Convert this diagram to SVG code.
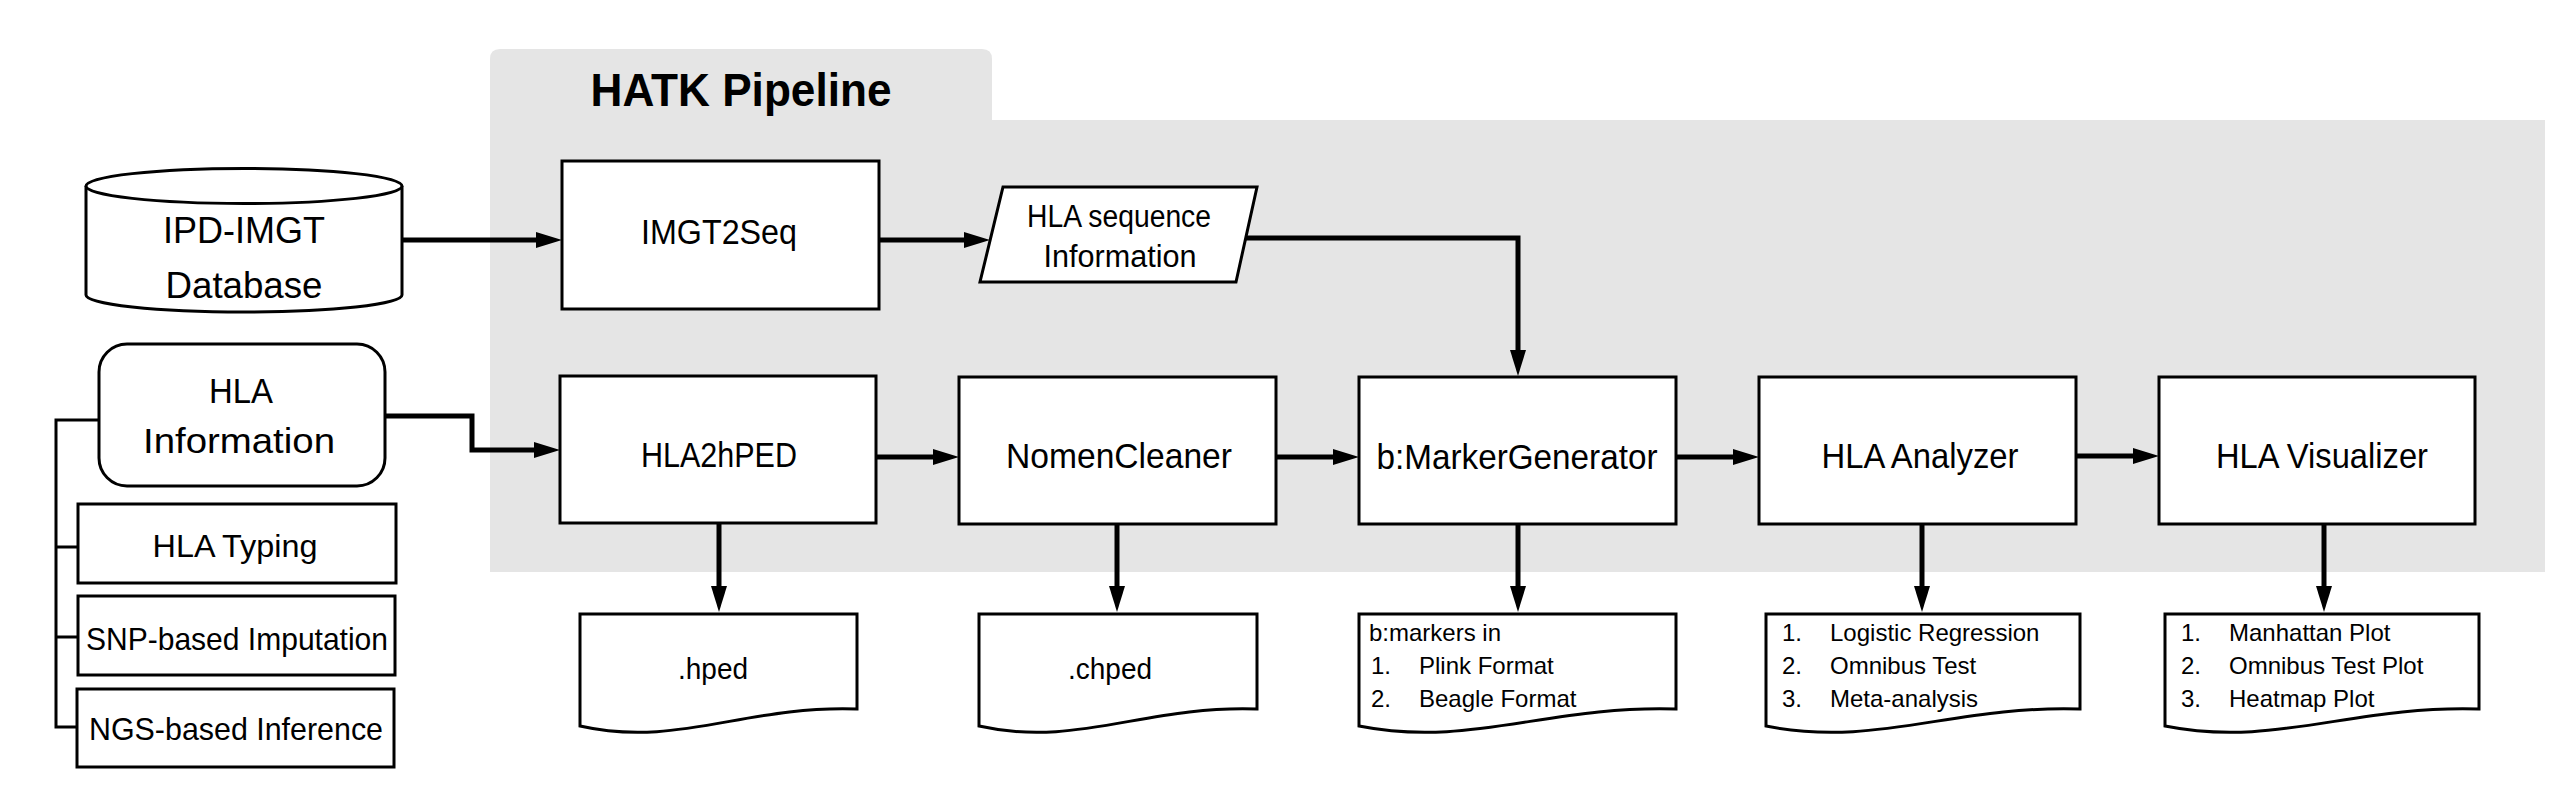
<svg xmlns="http://www.w3.org/2000/svg" width="2559" height="810" viewBox="0 0 2559 810">
<style>
text{font-family:"Liberation Sans",Arial,sans-serif;fill:#000}
.lbl{font-size:35px;text-anchor:middle}
.sub{font-size:32px;text-anchor:middle}
.par{font-size:31px;text-anchor:middle}
.doc{font-size:29px;text-anchor:middle}
.li{font-size:24px}
.box{fill:#fff;stroke:#000;stroke-width:3}
.conn{fill:none;stroke:#000;stroke-width:5}
.tree{fill:none;stroke:#000;stroke-width:3}
</style>
<defs>
<marker id="ah" viewBox="0 0 26 16" refX="0" refY="8" markerWidth="26" markerHeight="16" markerUnits="userSpaceOnUse" orient="auto">
<path d="M0,0 L26,8 L0,16 Z" fill="#000"/>
</marker>
</defs>
<rect width="2559" height="810" fill="#fff"/>
<g id="panel">
<path d="M490,120 V59 Q490,49 500,49 H982 Q992,49 992,59 V120 H2545 V572 H490 Z" fill="#e5e5e5"/>
<text x="741" y="106" style="font-size:47px;font-weight:bold;text-anchor:middle" textLength="301" lengthAdjust="spacingAndGlyphs">HATK Pipeline</text>
</g>
<g id="connectors">
<path class="conn" d="M402,240 H536" marker-end="url(#ah)"/>
<path class="conn" d="M879,240 H964" marker-end="url(#ah)"/>
<path class="conn" d="M1246,238 H1518 V350" marker-end="url(#ah)"/>
<path class="conn" d="M385,416 H472 V450 H534" marker-end="url(#ah)"/>
<path class="conn" d="M877,457 H933" marker-end="url(#ah)"/>
<path class="conn" d="M1276,457 H1333" marker-end="url(#ah)"/>
<path class="conn" d="M1676,457 H1733" marker-end="url(#ah)"/>
<path class="conn" d="M2076,456 H2133" marker-end="url(#ah)"/>
<path class="conn" d="M719,523 V586" marker-end="url(#ah)"/>
<path class="conn" d="M1117,524 V586" marker-end="url(#ah)"/>
<path class="conn" d="M1518,524 V586" marker-end="url(#ah)"/>
<path class="conn" d="M1922,524 V586" marker-end="url(#ah)"/>
<path class="conn" d="M2324,524 V586" marker-end="url(#ah)"/>
<path class="tree" d="M99,420 H56 V727 H77 M56,547 H78 M56,637 H78"/>
</g>
<g id="ipd-imgt">
<path class="box" d="M86,186 V295 A158,17 0 0 0 402,295 V186"/>
<ellipse class="box" cx="244" cy="186" rx="158" ry="17.5"/>
<text class="lbl" x="244" y="243" style="font-size:37px" textLength="162" lengthAdjust="spacingAndGlyphs">IPD-IMGT</text>
<text class="lbl" x="244" y="298" style="font-size:37px" textLength="157" lengthAdjust="spacingAndGlyphs">Database</text>
</g>
<g id="imgt2seq">
<rect class="box" x="562" y="161" width="317" height="148"/>
<text class="lbl" x="719" y="244" textLength="156" lengthAdjust="spacingAndGlyphs">IMGT2Seq</text>
</g>
<g id="hla-seq-info">
<polygon class="box" points="1003,187 1257,187 1236,282 980,282"/>
<text class="par" x="1119" y="227" textLength="184" lengthAdjust="spacingAndGlyphs">HLA sequence</text>
<text class="par" x="1120" y="267" textLength="153" lengthAdjust="spacingAndGlyphs">Information</text>
</g>
<g id="hla-info">
<rect class="box" x="99" y="344" width="286" height="142" rx="28" ry="28"/>
<text class="lbl" x="241" y="403" textLength="64" lengthAdjust="spacingAndGlyphs">HLA</text>
<text class="lbl" x="239" y="453" textLength="192" lengthAdjust="spacingAndGlyphs">Information</text>
</g>
<g id="hla-typing">
<rect class="box" x="78" y="504" width="318" height="79"/>
<text class="sub" x="235" y="557" textLength="165" lengthAdjust="spacingAndGlyphs">HLA Typing</text>
</g>
<g id="snp-imputation">
<rect class="box" x="78" y="596" width="317" height="79"/>
<text class="sub" x="237" y="650" textLength="302" lengthAdjust="spacingAndGlyphs">SNP-based Imputation</text>
</g>
<g id="ngs-inference">
<rect class="box" x="77" y="689" width="317" height="78"/>
<text class="sub" x="236" y="740" textLength="294" lengthAdjust="spacingAndGlyphs">NGS-based Inference</text>
</g>
<g id="hla2hped">
<rect class="box" x="560" y="376" width="316" height="147"/>
<text class="lbl" x="719" y="467" textLength="156" lengthAdjust="spacingAndGlyphs">HLA2hPED</text>
</g>
<g id="nomencleaner">
<rect class="box" x="959" y="377" width="317" height="147"/>
<text class="lbl" x="1119" y="468" textLength="226" lengthAdjust="spacingAndGlyphs">NomenCleaner</text>
</g>
<g id="bmarkergenerator">
<rect class="box" x="1359" y="377" width="317" height="147"/>
<text class="lbl" x="1517" y="469" textLength="281" lengthAdjust="spacingAndGlyphs">b:MarkerGenerator</text>
</g>
<g id="hla-analyzer">
<rect class="box" x="1759" y="377" width="317" height="147"/>
<text class="lbl" x="1920" y="468" textLength="197" lengthAdjust="spacingAndGlyphs">HLA Analyzer</text>
</g>
<g id="hla-visualizer">
<rect class="box" x="2159" y="377" width="316" height="147"/>
<text class="lbl" x="2322" y="468" textLength="212" lengthAdjust="spacingAndGlyphs">HLA Visualizer</text>
</g>
<g id="hped-doc">
<path class="box" d="M580,614 H857 V709 C746,705 677,748 580,726 Z"/>
<text class="doc" x="713" y="679" textLength="70" lengthAdjust="spacingAndGlyphs">.hped</text>
</g>
<g id="chped-doc">
<path class="box" d="M979,614 H1257 V709 C1146,705 1076,748 979,726 Z"/>
<text class="doc" x="1110" y="679" textLength="84" lengthAdjust="spacingAndGlyphs">.chped</text>
</g>
<g id="bmarkers-doc">
<path class="box" d="M1359,614 H1676 V709 C1549,705 1470,748 1359,726 Z"/>
<text class="li" x="1369" y="641">b:markers in</text>
<text class="li" x="1371" y="674">1.</text><text class="li" x="1419" y="674">Plink Format</text>
<text class="li" x="1371" y="707">2.</text><text class="li" x="1419" y="707">Beagle Format</text>
</g>
<g id="analyzer-doc">
<path class="box" d="M1766,614 H2080 V709 C1954,705 1876,748 1766,726 Z"/>
<text class="li" x="1782" y="641">1.</text><text class="li" x="1830" y="641">Logistic Regression</text>
<text class="li" x="1782" y="674">2.</text><text class="li" x="1830" y="674">Omnibus Test</text>
<text class="li" x="1782" y="707">3.</text><text class="li" x="1830" y="707">Meta-analysis</text>
</g>
<g id="visualizer-doc">
<path class="box" d="M2165,614 H2479 V709 C2353,705 2275,748 2165,726 Z"/>
<text class="li" x="2181" y="641">1.</text><text class="li" x="2229" y="641">Manhattan Plot</text>
<text class="li" x="2181" y="674">2.</text><text class="li" x="2229" y="674">Omnibus Test Plot</text>
<text class="li" x="2181" y="707">3.</text><text class="li" x="2229" y="707">Heatmap Plot</text>
</g>
</svg>
